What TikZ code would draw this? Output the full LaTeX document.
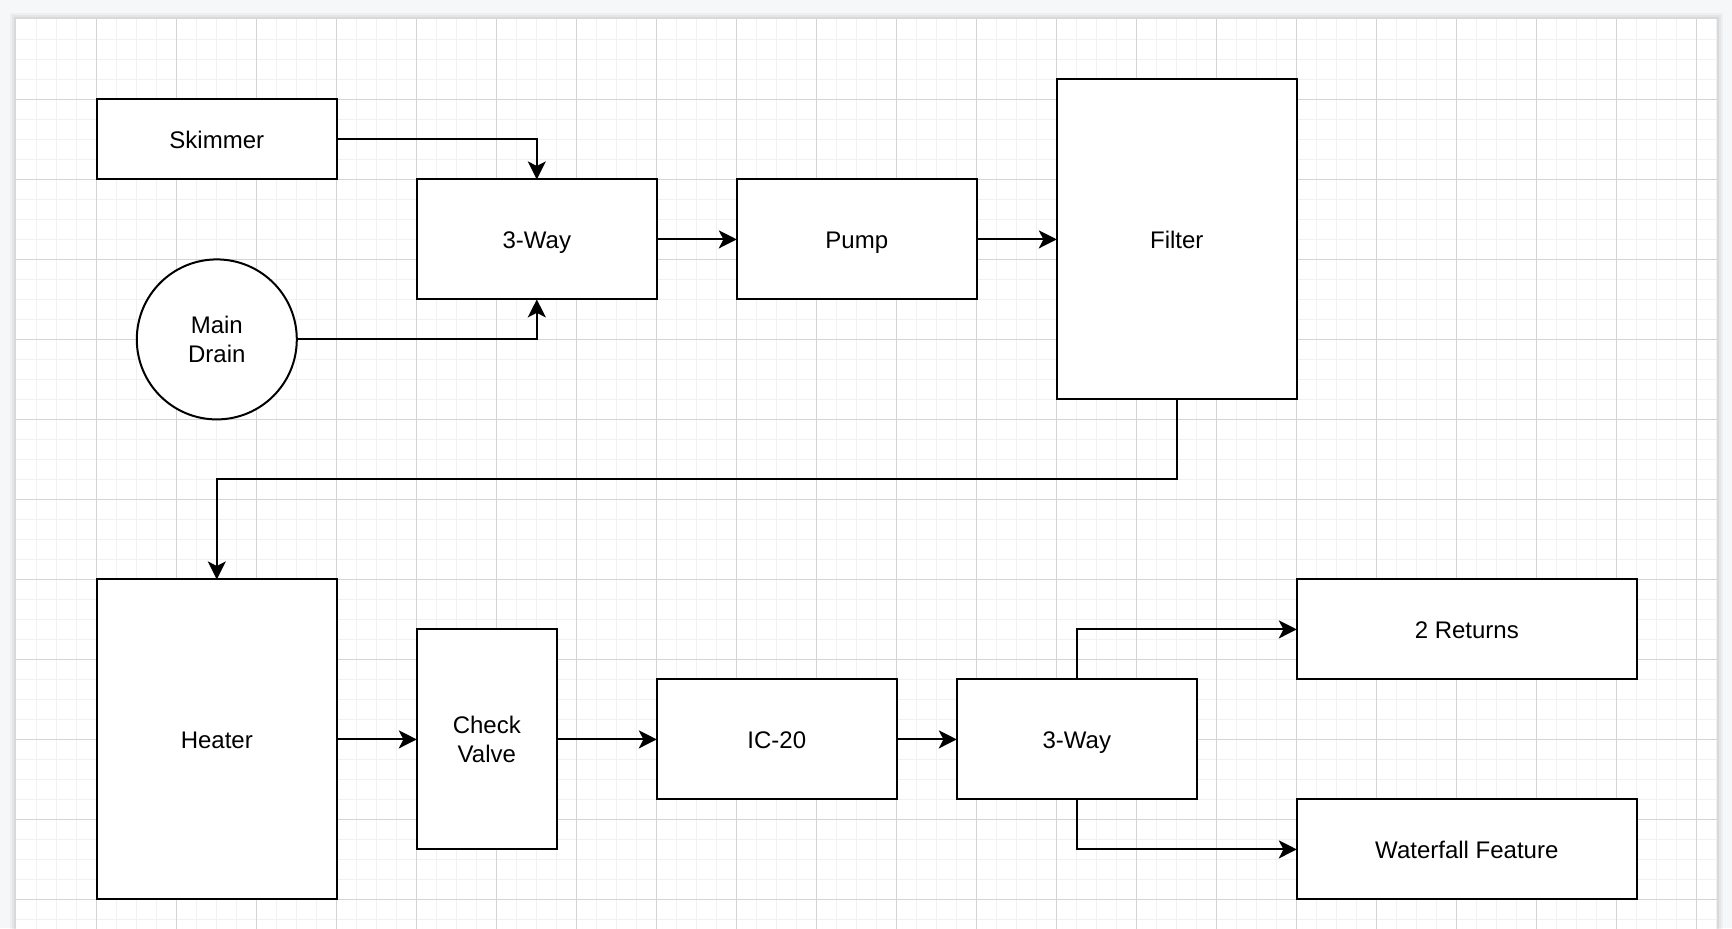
\documentclass[tikz,border=0pt]{standalone}
\usepackage{fontspec}
\setmainfont{Liberation Sans}
\usetikzlibrary{arrows.meta,shapes.geometric}
\definecolor{appbg}{RGB}{246,247,249}
\definecolor{gridmin}{RGB}{241,241,241}
\definecolor{gridmaj}{RGB}{212,212,212}
\begin{document}
\begin{tikzpicture}[x=1pt,y=-1pt,
  box/.style={draw=black, fill=white, line width=1pt, inner sep=0pt, outer sep=0pt,
    align=center, font=\fontsize{12}{14.2}\selectfont, text=black},
  oneline/.style={text height=10.6pt, text depth=2pt},
  conn/.style={draw=black, line width=1pt,
    -{Stealth[length=9pt,width=9pt,inset=2.3pt]}},
  minorline/.style={draw=gridmin, line width=0.5pt},
  majorline/.style={draw=gridmaj, line width=0.5pt}]
% page / background
\useasboundingbox (-8.4,-9.7) rectangle (857.6,454.3);
\fill[appbg] (-8.4,-9.7) rectangle (857.6,454.3);
% canvas shadow
\foreach \d/\o in {3/0.03,2/0.04,1/0.05}
  \fill[black,opacity=\o] (-0.5-\d,-0.3-\d) rectangle (850+\d,460);
\fill[white] (-0.5,-0.3) rectangle (850,460);
% grid
\begin{scope}
\clip (-0.5,-0.3) rectangle (850,460);
\foreach \gx in {10,20,...,850} \draw[minorline] (\gx,-0.3) -- (\gx,460);
\foreach \gy in {10,20,...,450} \draw[minorline] (-0.5,\gy) -- (850,\gy);
\foreach \gx in {40,80,...,840} \draw[majorline] (\gx,-0.3) -- (\gx,460);
\foreach \gy in {40,80,...,440} \draw[majorline] (-0.5,\gy) -- (850,\gy);
\end{scope}
% nodes
\node[box, oneline, minimum width=120pt, minimum height=40pt] (sk) at (100,60) {Skimmer};
\node[box, ellipse, minimum width=80pt, minimum height=80pt] (md) at (100,160) {Main\\Drain};
\node[box, oneline, minimum width=120pt, minimum height=60pt] (w1) at (260,110) {3-Way};
\node[box, oneline, minimum width=120pt, minimum height=60pt] (pump) at (420,110) {Pump};
\node[box, oneline, minimum width=120pt, minimum height=160pt] (filter) at (580,110) {Filter};
\node[box, oneline, minimum width=120pt, minimum height=160pt] (heater) at (100,360) {Heater};
\node[box, minimum width=70pt, minimum height=110pt] (cv) at (235,360) {Check\\Valve};
\node[box, oneline, minimum width=120pt, minimum height=60pt] (ic) at (380,360) {IC-20};
\node[box, oneline, minimum width=120pt, minimum height=60pt] (w2) at (530,360) {3-Way};
\node[box, oneline, minimum width=170pt, minimum height=50pt] (ret) at (725,305) {2 Returns};
\node[box, oneline, minimum width=170pt, minimum height=50pt] (wf) at (725,415) {Waterfall Feature};
% connectors
\draw[conn] (sk.east) -| (w1.north);
\draw[conn] (md.east) -| (w1.south);
\draw[conn] (w1.east) -- (pump.west);
\draw[conn] (pump.east) -- (filter.west);
\draw[conn] (filter.south) -- ++(0,40) -| (heater.north);
\draw[conn] (heater.east) -- (cv.west);
\draw[conn] (cv.east) -- (ic.west);
\draw[conn] (ic.east) -- (w2.west);
\draw[conn] (w2.north) |- (ret.west);
\draw[conn] (w2.south) |- (wf.west);
\end{tikzpicture}
\end{document}
